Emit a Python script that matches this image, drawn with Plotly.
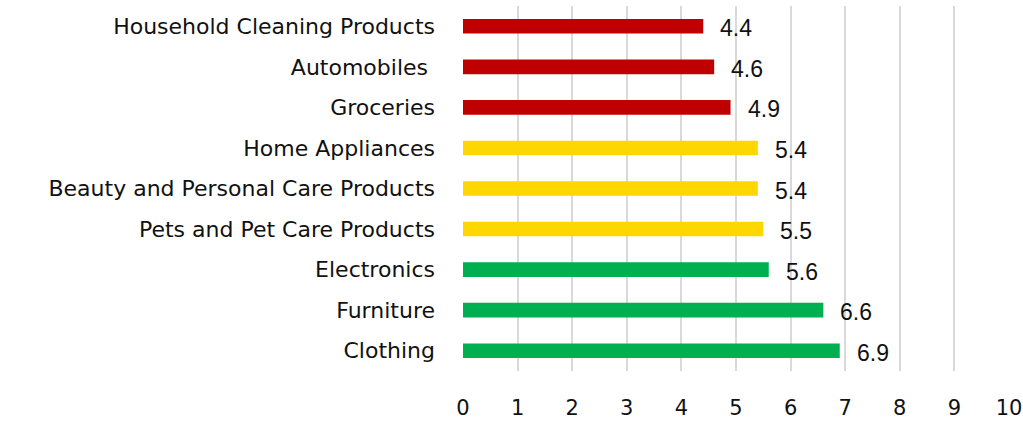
import plotly.graph_objects as go

# Categories listed top to bottom
categories = [
    "Household Cleaning Products",
    "Automobiles\u00a0",
    "Groceries",
    "Home Appliances",
    "Beauty and Personal Care Products",
    "Pets and Pet Care Products",
    "Electronics",
    "Furniture",
    "Clothing",
]
scores = [4.4, 4.6, 4.9, 5.4, 5.4, 5.5, 5.6, 6.6, 6.9]
bar_colors = [
    "#C00000", "#C00000", "#C00000",
    "#FFD700", "#FFD700", "#FFD700",
    "#00B050", "#00B050", "#00B050",
]
x_ticks = list(range(0, 11))

LABEL_FONT = "DejaVu Sans"

fig = go.Figure()
fig.add_trace(go.Bar(
    x=scores,
    y=categories,
    orientation="h",
    marker=dict(color=bar_colors, line=dict(width=0)),
    width=0.36,
    hoverinfo="skip",
))

# Value labels placed just right of each bar end
for cat, val in zip(categories, scores):
    fig.add_annotation(
        x=val, y=cat, text=f"{val:.1f}",
        showarrow=False, xanchor="left", yanchor="middle",
        xshift=15, yshift=-2,
        font=dict(family="Liberation Sans, Arial", size=23, color="#111111"),
    )

fig.update_layout(
    width=1023, height=421,
    margin=dict(l=463, r=14, t=6, b=50),
    paper_bgcolor="white", plot_bgcolor="white",
    showlegend=False,
    xaxis=dict(
        range=[0, 10], tickvals=x_ticks, ticktext=[str(t) for t in x_ticks],
        showgrid=True, gridcolor="#D9D9D9", gridwidth=1.5,
        zeroline=False, showline=False,
        ticks="", ticklabelstandoff=22, automargin=False,
        tickfont=dict(family=LABEL_FONT, size=21, color="#111111"),
        fixedrange=True,
    ),
    yaxis=dict(
        autorange="reversed",
        showgrid=False, zeroline=False, showline=False,
        ticks="", ticklabelstandoff=27, automargin=False,
        tickfont=dict(family=LABEL_FONT, size=22, color="#111111"),
        fixedrange=True,
    ),
)

fig.write_html("out.html")
